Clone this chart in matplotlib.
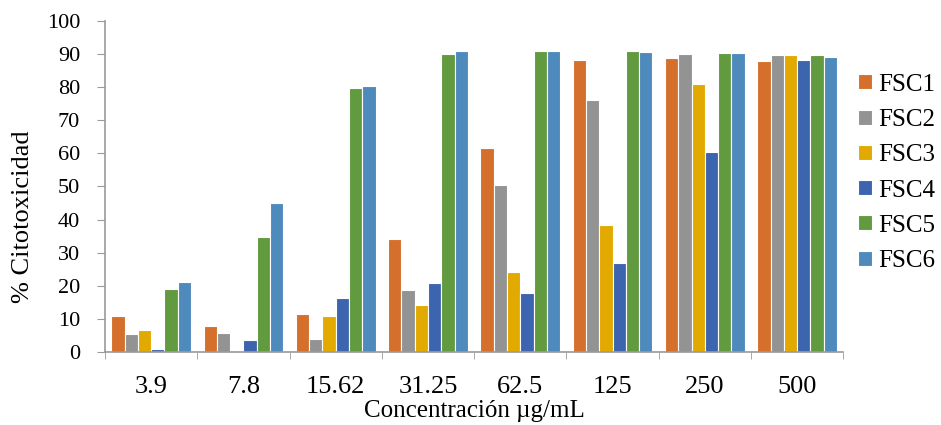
import matplotlib.pyplot as plt
import numpy as np

plt.rcParams['font.family'] = ['Liberation Serif', 'DejaVu Serif']

concentraciones = ['3.9', '7.8', '15.62', '31.25', '62.5', '125', '250', '500']
fsc1 = [10.8, 7.7, 11.6, 34.0, 61.6, 88.2, 88.9, 87.9]
fsc2 = [5.3, 5.8, 4.0, 18.8, 50.6, 76.2, 90.0, 89.7]
fsc3 = [6.5, -0.6, 11.0, 14.3, 24.2, 38.5, 81.0, 89.7]
fsc4 = [0.8, 3.5, 16.4, 20.9, 17.9, 26.8, 60.4, 88.2]
fsc5 = [18.9, 34.6, 79.8, 90.0, 90.9, 90.8, 90.4, 89.7]
fsc6 = [21.0, 45.0, 80.4, 90.9, 90.9, 90.7, 90.2, 89.1]

series = [fsc1, fsc2, fsc3, fsc4, fsc5, fsc6]
nombres = ['FSC1', 'FSC2', 'FSC3', 'FSC4', 'FSC5', 'FSC6']
colores = ['#D46F2C', '#939393', '#E2AA00', '#3D64AE', '#629A40', '#4F8ABD']

fig = plt.figure(figsize=(9.41, 4.25), dpi=100)
ax = fig.add_axes([0.1116, 0.1718, 0.7845, 0.7788])

x = np.arange(len(concentraciones))
w = 0.144
for i, (vals, nom, col) in enumerate(zip(series, nombres, colores)):
    ax.bar(x + (i - 2.5) * w, vals, w, color=col, edgecolor='white',
           linewidth=0.8, label=nom)

ax.set_xlim(-0.5, len(concentraciones) - 0.5)
ax.set_ylim(0, 100)
ax.set_yticks(range(0, 101, 10))
ax.set_xticks(x)
ax.set_xticklabels(concentraciones)
ax.set_xticks(np.arange(-0.5, len(concentraciones)), minor=True)
ax.tick_params(axis='x', which='major', length=0, labelsize=19, pad=17)
ax.tick_params(axis='x', which='minor', length=5, color='#9a9a9a', direction='out')
ax.tick_params(axis='y', length=6, color='#9a9a9a', labelsize=16, pad=12)

for s in ['top', 'right']:
    ax.spines[s].set_visible(False)
for s in ['left', 'bottom']:
    ax.spines[s].set_color('#9a9a9a')
    ax.spines[s].set_linewidth(1.2)

ax.set_xlabel('Concentración µg/mL', fontsize=18, labelpad=1.5)
fig.text(23 / 941, 1 - 217 / 425, '% Citotoxicidad', fontsize=19,
         rotation=90, ha='center', va='center')

ax.legend(loc='center left', bbox_to_anchor=(1.020, 0.541), frameon=False,
          fontsize=18, handlelength=0.55, handleheight=0.55, handletextpad=0.25,
          labelspacing=0.53, borderpad=0, borderaxespad=0)

fig.savefig('out.png', dpi=100)
